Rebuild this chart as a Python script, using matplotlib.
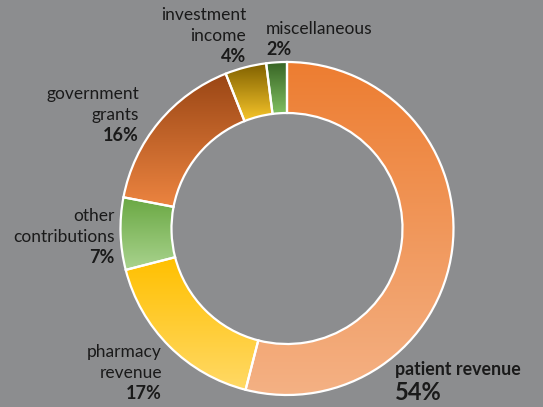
import numpy as np
import matplotlib.pyplot as plt
from matplotlib.colors import to_rgb

# revenue shares, clockwise from 12 o'clock
labels = ['patient revenue', 'pharmacy\nrevenue', 'other\ncontributions',
          'government\ngrants', 'investment\nincome', 'miscellaneous']
shares = [54, 17, 7, 16, 4, 2]
# gradient colours per slice: (top, bottom)
top_colors = ['#ED7D31', '#FFC000', '#6AA843', '#9A4615', '#7F6000', '#386526']
bottom_colors = ['#F4B184', '#FFD966', '#A9D38E', '#EC8440', '#F7C52A', '#80BF60']

W, H = 543, 407
fig = plt.figure(figsize=(W / 100, H / 100), dpi=100)
fig.patch.set_facecolor('#8c8d8f')
ax = fig.add_axes([0, 0, 1, 1])
ax.set_facecolor('#8c8d8f')

cx, cy, R = 287, H - 228.5, 166.5
wedges, _ = ax.pie(shares, startangle=90, counterclock=False, center=(cx, cy),
                   radius=R, wedgeprops=dict(width=51, edgecolor='white',
                                             linewidth=1.6))

for w, c0, c1 in zip(wedges, top_colors, bottom_colors):
    ext = w.get_path().get_extents()
    t = np.linspace(0, 1, 256)[:, None]
    grad = (1 - t) * np.array(to_rgb(c1)) + t * np.array(to_rgb(c0))
    im = ax.imshow(grad[:, None, :], extent=(ext.x0, ext.x1, ext.y0, ext.y1),
                   origin='lower', aspect='auto', interpolation='bilinear',
                   zorder=1)
    im.set_clip_path(w)
    w.set_facecolor('none')
    w.set_zorder(2)

ax.set_xlim(0, W)
ax.set_ylim(0, H)
ax.set_aspect('equal')
ax.axis('off')

txt = '#1a1a1a'
fam = ['Lato', 'DejaVu Sans']
# label anchor: x, baseline of first line (pixels from top), alignment
label_pos = [(395, 375, 'left'), (162, 357, 'right'), (115, 221, 'right'),
             (139, 99, 'right'), (246, 20, 'right'), (266, 34, 'left')]
step = 21

for lab, s, (x, y, ha) in zip(labels, shares, label_pos):
    if lab == 'patient revenue':
        ax.text(x, H - y, lab, ha=ha, va='baseline', fontsize=12.8,
                fontweight='bold', color=txt, family=fam)
        ax.text(x, H - y - 25, f'{s}%', ha=ha, va='baseline', fontsize=17,
                fontweight='bold', color=txt, family=fam)
        continue
    lines = lab.split('\n')
    for i, line in enumerate(lines):
        ax.text(x, H - y - step * i, line, ha=ha, va='baseline', fontsize=12.5,
                color=txt, family=fam)
    ax.text(x, H - y - step * len(lines), f'{s}%', ha=ha, va='baseline',
            fontsize=13, fontweight='bold', color=txt, family=fam)

fig.savefig('out.png', dpi=100, facecolor=fig.get_facecolor())
